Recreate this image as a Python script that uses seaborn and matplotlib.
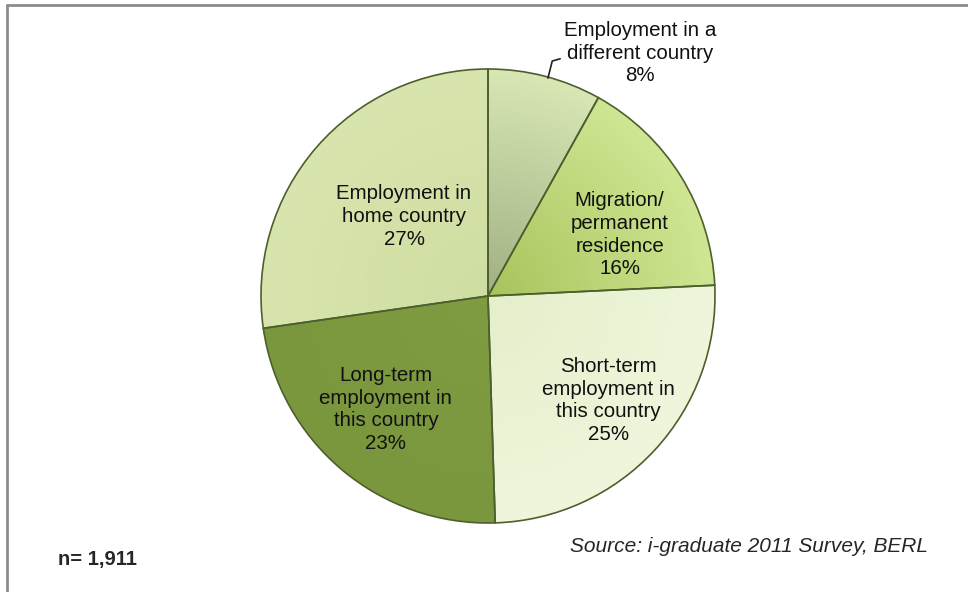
# Pie chart of graduate intentions (i-graduate 2011 survey)
import matplotlib
matplotlib.use("Agg")
import matplotlib.pyplot as plt
from matplotlib.colors import to_rgb
import numpy as np
import seaborn as sns

# Data
labels = ["Employment in a\ndifferent country",
          "Migration/\npermanent\nresidence",
          "Short-term\nemployment in\nthis country",
          "Long-term\nemployment in\nthis country",
          "Employment in\nhome country"]
shares = [8, 16, 25, 23, 27]
colors = ["#bccb98", "#b8d36c", "#eaf2d3", "#7e9a40", "#d4e2a8"]
# degrade radial (centre -> bord) pour imiter le rendu Excel
inner_colors = ["#a0b083", "#a8c45c", "#e5efca", "#7f9c42", "#cfdea2"]
outer_colors = ["#d8e7b4", "#cfe693", "#eff6dc", "#7a973d", "#d8e5ae"]
sample_note = "n= 1,911"
source_note = "Source: i-graduate 2011 Survey, BERL"

sns.set_theme(style="white")
plt.rcParams["font.family"] = ["Liberation Sans", "DejaVu Sans"]

W, H = 968, 592
cx, cy, rad = 488, 296, 227   # centre et rayon du camembert en pixels

fig = plt.figure(figsize=(W / 100, H / 100), dpi=100)
ax = fig.add_axes([0, 0, 1, 1])

wedges, _ = ax.pie(shares, colors=colors, startangle=90, counterclock=False,
                   radius=1, wedgeprops=dict(edgecolor="#4e5f2e", linewidth=1.2))

# Remplissage en degrade, coupe a chaque part
gx, gy = np.meshgrid(np.linspace(-1, 1, 300), np.linspace(-1, 1, 300))
t = np.clip(np.sqrt(gx ** 2 + gy ** 2), 0, 1)[..., None]
for w, c_in, c_out in zip(wedges, inner_colors, outer_colors):
    a, b = np.array(to_rgb(c_in)), np.array(to_rgb(c_out))
    img = a + (b - a) * t
    im = ax.imshow(img, extent=(-1, 1, -1, 1), origin="lower", zorder=w.get_zorder() + 0.1)
    im.set_clip_path(w)
    # contour redessine par-dessus
    w.set_facecolor("none")
    w.set_zorder(w.get_zorder() + 0.2)

ax.set_xlim(-cx / rad, (W - cx) / rad)
ax.set_ylim(-(H - cy) / rad, cy / rad)
ax.set_aspect("auto")
ax.axis("off")

# Etiquettes (positions dans le repere du camembert)
pos = [(0.67, 1.07), (0.58, 0.27), (0.53, -0.46), (-0.45, -0.50), (-0.37, 0.35)]
for lab, val, (x, y) in zip(labels, shares, pos):
    ax.text(x, y, f"{lab}\n{val}%", ha="center", va="center", zorder=5,
            fontsize=14.8, linespacing=1.25, color="#111111")

# Trait de rappel pour la petite part
ax.plot([0.264, 0.283, 0.318], [0.96, 1.035, 1.045], color="#222222", lw=1.2, zorder=5)

# Cadre (haut et gauche seulement)
fig.add_artist(plt.Line2D([7 / W, 1], [1 - 5 / H, 1 - 5 / H], color="#8c8c8c", lw=2))
fig.add_artist(plt.Line2D([7 / W, 7 / W], [0, 1 - 5 / H], color="#8c8c8c", lw=2))

fig.text(58 / W, 1 - 559 / H, sample_note, fontsize=14.5, fontweight="bold",
         ha="left", va="center")
fig.text(928 / W, 1 - 547 / H, source_note, fontsize=15, style="italic",
         ha="right", va="center")

fig.savefig("out.png", dpi=100)
